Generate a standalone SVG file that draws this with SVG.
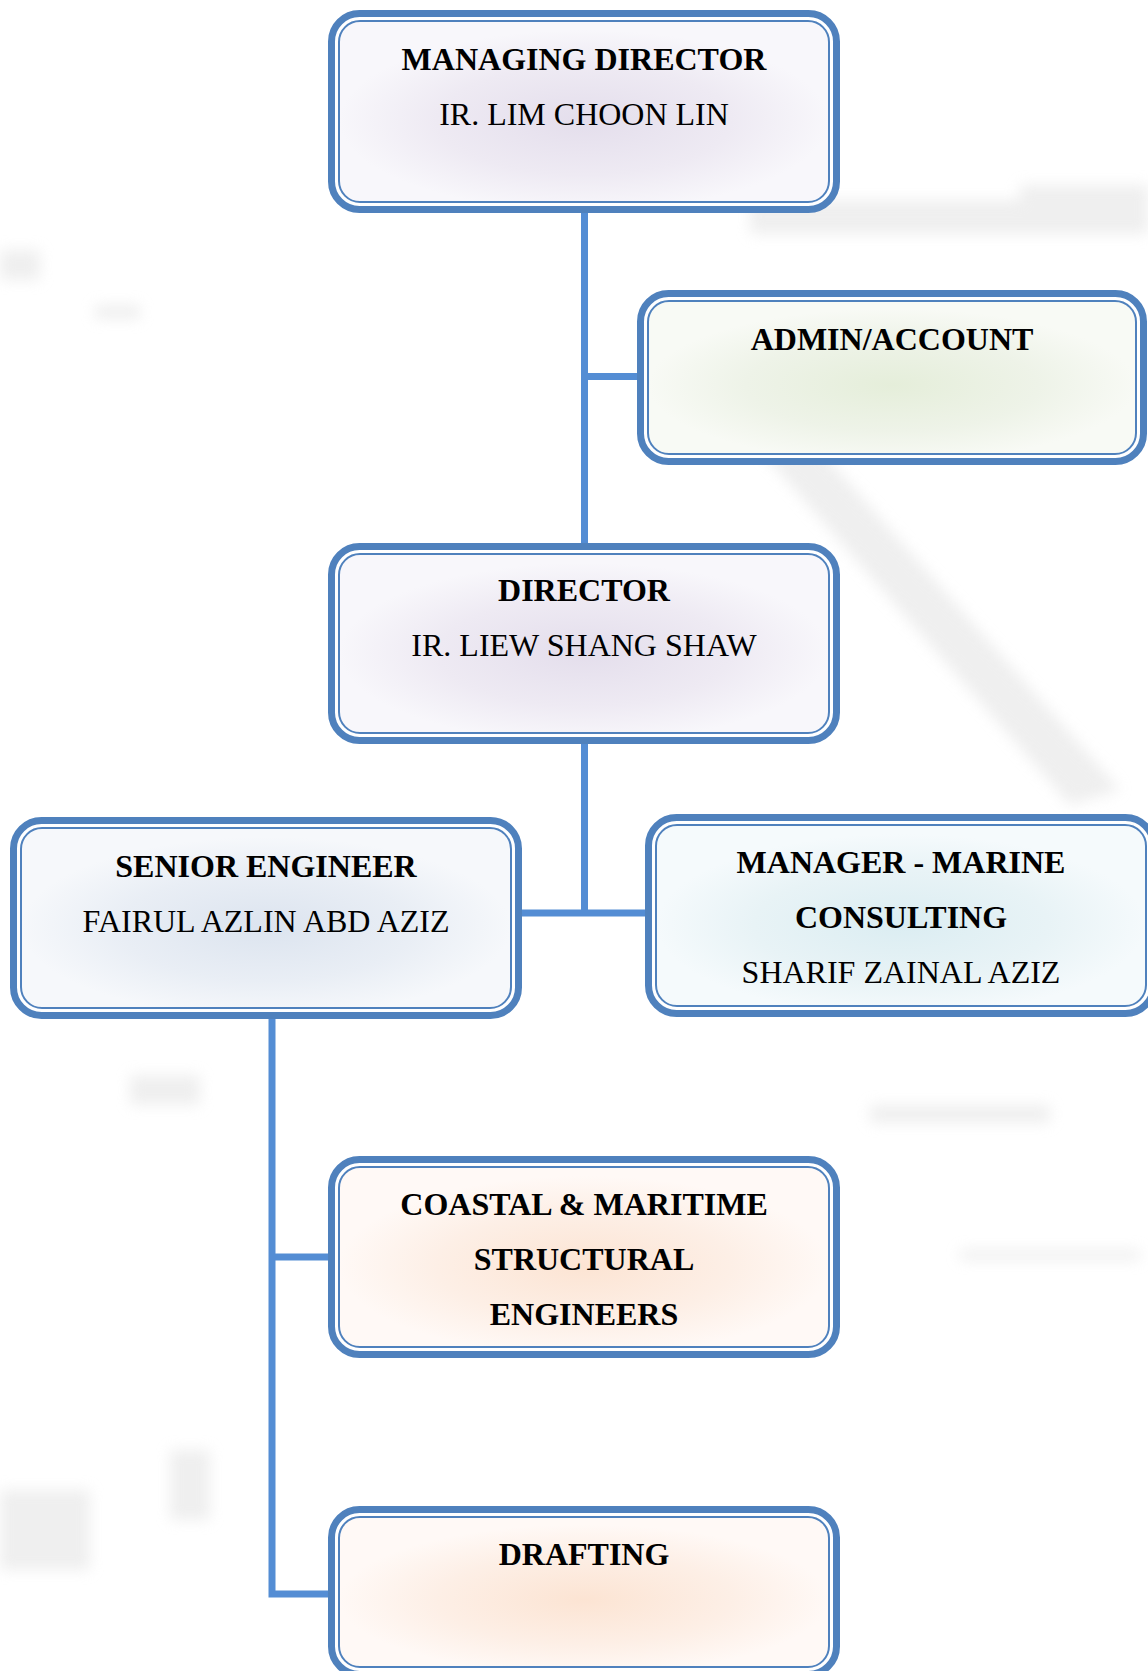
<svg xmlns="http://www.w3.org/2000/svg" width="1148" height="1671" viewBox="0 0 1148 1671">
  <defs>
    <style>
      .outer { fill: #ffffff; stroke: #4F81BD; stroke-width: 7; }
      .inner { stroke: #4F81BD; stroke-width: 2; }
      .t { font-family: "Liberation Serif", "Times New Roman", serif; font-size: 32px; fill: #000; text-anchor: middle; }
      .b { font-weight: bold; }
      .conn { fill: none; stroke: #548DD4; stroke-width: 7; stroke-linejoin: miter; stroke-linecap: butt; }
      .wm { fill: #E2E2E2; }
    </style>
    <filter id="blur" x="-20%" y="-20%" width="140%" height="140%">
      <feGaussianBlur stdDeviation="7"/>
    </filter>
    <radialGradient id="gPurple" cx="0.5" cy="0.55" r="0.5">
      <stop offset="0" stop-color="#E4DEEC"/>
      <stop offset="0.6" stop-color="#EEEAF3"/>
      <stop offset="1" stop-color="#F8F7FB"/>
    </radialGradient>
    <radialGradient id="gGreen" cx="0.5" cy="0.55" r="0.5">
      <stop offset="0" stop-color="#E5EEDA"/>
      <stop offset="0.6" stop-color="#EEF3E8"/>
      <stop offset="1" stop-color="#F8FAF5"/>
    </radialGradient>
    <radialGradient id="gBlue" cx="0.5" cy="0.55" r="0.5">
      <stop offset="0" stop-color="#DCE4EF"/>
      <stop offset="0.6" stop-color="#E9EEF5"/>
      <stop offset="1" stop-color="#F6F8FB"/>
    </radialGradient>
    <radialGradient id="gCyan" cx="0.5" cy="0.55" r="0.5">
      <stop offset="0" stop-color="#DBEDF2"/>
      <stop offset="0.6" stop-color="#E8F3F6"/>
      <stop offset="1" stop-color="#F5FAFC"/>
    </radialGradient>
    <radialGradient id="gPeach" cx="0.5" cy="0.55" r="0.5">
      <stop offset="0" stop-color="#FCE4D3"/>
      <stop offset="0.6" stop-color="#FDEFE6"/>
      <stop offset="1" stop-color="#FFF9F6"/>
    </radialGradient>
  </defs>

  <rect x="0" y="0" width="1148" height="1671" fill="#ffffff"/>

  <g id="watermark" filter="url(#blur)" opacity="0.55">
    <rect class="wm" x="750" y="200" width="398" height="34"/>
    <rect class="wm" x="1020" y="185" width="128" height="20"/>
    <polygon class="wm" points="760,450 820,450 1120,790 1070,805"/>
    <rect class="wm" x="0" y="250" width="40" height="30"/>
    <rect class="wm" x="95" y="305" width="45" height="14"/>
    <rect class="wm" x="130" y="1075" width="70" height="30"/>
    <rect class="wm" x="170" y="1450" width="40" height="70"/>
    <rect class="wm" x="0" y="1490" width="90" height="80"/>
    <rect class="wm" x="870" y="1105" width="180" height="18"/>
    <rect class="wm" x="960" y="1250" width="180" height="10"/>
  </g>

  <g id="connectors">
    <path class="conn" d="M584.5 213 V543"/>
    <path class="conn" d="M584.5 376.5 H637"/>
    <path class="conn" d="M584.5 744 V913 M522 913 H645"/>
    <path class="conn" d="M272 1019 V1594 H328"/>
    <path class="conn" d="M272 1257 H328"/>
  </g>

  <g id="managing-director">
    <rect class="outer" x="331.5" y="13.5" width="505" height="196" rx="28"/>
    <rect class="inner" x="339" y="21" width="490" height="181" rx="21" fill="url(#gPurple)"/>
    <text class="t b" x="584" y="70">MANAGING DIRECTOR</text>
    <text class="t" x="584" y="125">IR. LIM CHOON LIN</text>
  </g>

  <g id="admin-account">
    <rect class="outer" x="640.5" y="293.5" width="503" height="168" rx="28"/>
    <rect class="inner" x="648" y="301" width="488" height="153" rx="21" fill="url(#gGreen)"/>
    <text class="t b" x="892" y="350">ADMIN/ACCOUNT</text>
  </g>

  <g id="director">
    <rect class="outer" x="331.5" y="546.5" width="505" height="194" rx="28"/>
    <rect class="inner" x="339" y="554" width="490" height="179" rx="21" fill="url(#gPurple)"/>
    <text class="t b" x="584" y="601">DIRECTOR</text>
    <text class="t" x="584" y="656">IR. LIEW SHANG SHAW</text>
  </g>

  <g id="senior-engineer">
    <rect class="outer" x="13.5" y="820.5" width="505" height="195" rx="28"/>
    <rect class="inner" x="21" y="828" width="490" height="180" rx="21" fill="url(#gBlue)"/>
    <text class="t b" x="266" y="877">SENIOR ENGINEER</text>
    <text class="t" x="266" y="932">FAIRUL AZLIN ABD AZIZ</text>
  </g>

  <g id="manager-marine-consulting">
    <rect class="outer" x="648.5" y="817.5" width="505" height="196" rx="28"/>
    <rect class="inner" x="656" y="825" width="490" height="181" rx="21" fill="url(#gCyan)"/>
    <text class="t b" x="901" y="873">MANAGER - MARINE</text>
    <text class="t b" x="901" y="928">CONSULTING</text>
    <text class="t" x="901" y="983">SHARIF ZAINAL AZIZ</text>
  </g>

  <g id="coastal-maritime">
    <rect class="outer" x="331.5" y="1159.5" width="505" height="195" rx="28"/>
    <rect class="inner" x="339" y="1167" width="490" height="180" rx="21" fill="url(#gPeach)"/>
    <text class="t b" x="584" y="1215">COASTAL &amp; MARITIME</text>
    <text class="t b" x="584" y="1270">STRUCTURAL</text>
    <text class="t b" x="584" y="1325">ENGINEERS</text>
  </g>

  <g id="drafting">
    <rect class="outer" x="331.5" y="1509.5" width="505" height="165" rx="28"/>
    <rect class="inner" x="339" y="1517" width="490" height="150" rx="21" fill="url(#gPeach)"/>
    <text class="t b" x="584" y="1565">DRAFTING</text>
  </g>
</svg>
